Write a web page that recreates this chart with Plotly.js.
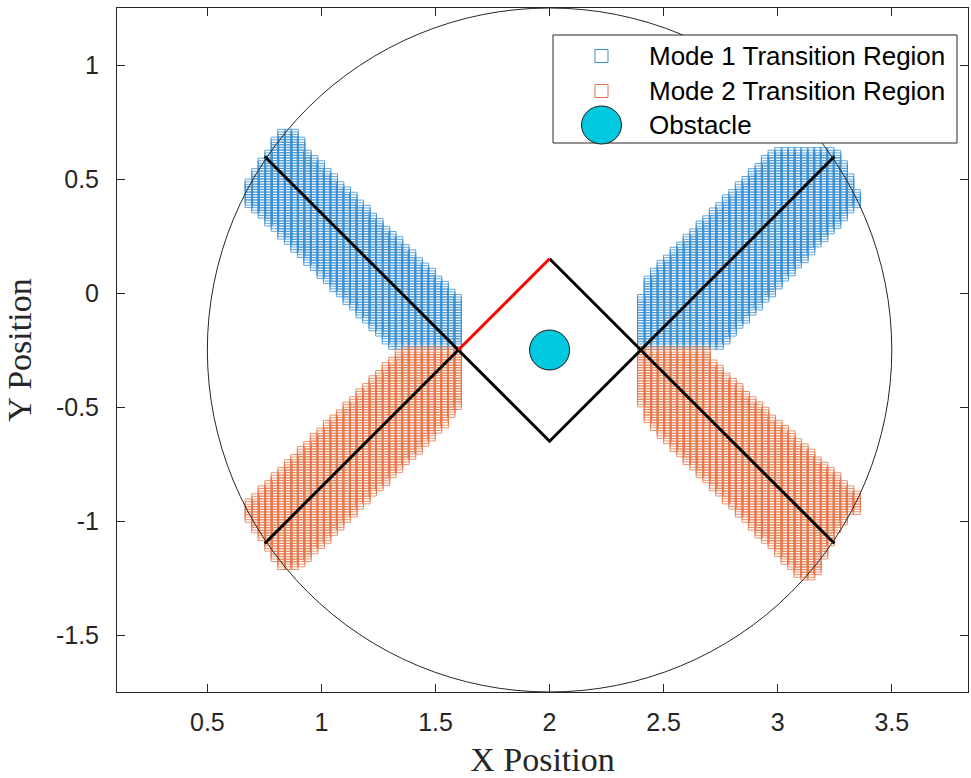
<!DOCTYPE html>
<html>
<head>
<meta charset="utf-8">
<script src="https://cdn.plot.ly/plotly-3.0.1.min.js"></script>
<style>
  html, body { margin: 0; padding: 0; background: #ffffff; }
  #chart { width: 971px; height: 778px; }
</style>
</head>
<body>
<div id="chart"></div>
<script>
// ---- sampled transition regions: one column of samples per x value ----
const ROW_STEP = 0.0115;

const leftColsX = [0.682, 0.711, 0.739, 0.768, 0.796, 0.825, 0.854, 0.882, 0.911, 0.939,
  0.968, 0.997, 1.025, 1.054, 1.082, 1.111, 1.140, 1.168, 1.197, 1.225,
  1.254, 1.283, 1.311, 1.340, 1.368, 1.397, 1.426, 1.454, 1.483, 1.511,
  1.540, 1.569, 1.597];
const rightColsX = [2.402, 2.431, 2.459, 2.488, 2.516, 2.545, 2.574, 2.602, 2.631, 2.659,
  2.688, 2.717, 2.745, 2.774, 2.802, 2.831, 2.860, 2.888, 2.917, 2.945,
  2.974, 3.003, 3.031, 3.060, 3.088, 3.117, 3.146, 3.174, 3.203, 3.231,
  3.260, 3.289, 3.317, 3.346];

// Mode 1, upper-left arm
const mode1LeftHi = [0.488, 0.531, 0.575, 0.619, 0.667, 0.711, 0.711, 0.711, 0.667, 0.619,
  0.591, 0.564, 0.536, 0.508, 0.481, 0.453, 0.426, 0.398, 0.370, 0.343,
  0.315, 0.287, 0.260, 0.232, 0.205, 0.177, 0.149, 0.122, 0.094, 0.066,
  0.039, 0.011, -0.016];
const mode1LeftLo = [0.391, 0.362, 0.334, 0.305, 0.277, 0.248, 0.220, 0.191, 0.162, 0.134,
  0.105, 0.077, 0.048, 0.019, -0.009, -0.038, -0.066, -0.095, -0.123, -0.152,
  -0.181, -0.209, -0.24, -0.24, -0.24, -0.24, -0.24, -0.24, -0.24, -0.24,
  -0.24, -0.24, -0.24];

// Mode 1, upper-right arm
const mode1RightHi = [-0.016, 0.060, 0.103, 0.131, 0.160, 0.188, 0.217, 0.246, 0.274, 0.303,
  0.332, 0.360, 0.388, 0.417, 0.446, 0.474, 0.503, 0.532, 0.560, 0.588,
  0.617, 0.632, 0.632, 0.632, 0.632, 0.632, 0.632, 0.632, 0.632, 0.632,
  0.610, 0.567, 0.514, 0.444];
const mode1RightLo = [-0.24, -0.24, -0.24, -0.24, -0.24, -0.24, -0.24, -0.24, -0.24, -0.24,
  -0.24, -0.24, -0.24, -0.208, -0.178, -0.148, -0.119, -0.089, -0.060, -0.030,
  0.000, 0.030, 0.060, 0.089, 0.119, 0.149, 0.178, 0.208, 0.238, 0.268,
  0.297, 0.327, 0.357, 0.387];

// Mode 2, lower-left arm
const mode2LeftHi = [-0.918, -0.889, -0.861, -0.832, -0.804, -0.775, -0.747, -0.718, -0.689, -0.661,
  -0.632, -0.604, -0.575, -0.546, -0.518, -0.489, -0.461, -0.432, -0.404, -0.375,
  -0.346, -0.318, -0.289, -0.261, -0.25, -0.25, -0.25, -0.25, -0.25, -0.25,
  -0.25, -0.25, -0.25];
const mode2LeftLo = [-0.992, -1.036, -1.080, -1.123, -1.167, -1.198, -1.198, -1.198, -1.189, -1.165,
  -1.137, -1.109, -1.081, -1.053, -1.025, -0.997, -0.969, -0.941, -0.913, -0.885,
  -0.857, -0.829, -0.801, -0.774, -0.746, -0.718, -0.690, -0.662, -0.633, -0.605,
  -0.577, -0.540, -0.505];

// Mode 2, lower-right arm
const mode2RightHi = [-0.25, -0.25, -0.25, -0.25, -0.25, -0.25, -0.25, -0.25, -0.25, -0.25,
  -0.25, -0.307, -0.333, -0.359, -0.386, -0.412, -0.438, -0.464, -0.490, -0.516,
  -0.542, -0.568, -0.595, -0.621, -0.647, -0.673, -0.699, -0.725, -0.751, -0.777,
  -0.803, -0.830, -0.856, -0.882];
const mode2RightLo = [-0.489, -0.563, -0.595, -0.623, -0.652, -0.681, -0.710, -0.739, -0.768, -0.797,
  -0.826, -0.855, -0.884, -0.913, -0.942, -0.971, -1.000, -1.029, -1.058, -1.086,
  -1.115, -1.144, -1.173, -1.202, -1.231, -1.242, -1.242, -1.220, -1.154, -1.097,
  -1.045, -1.001, -0.957, -0.957];

// ---- geometry ----
const diamondX = [2.0, 2.4, 2.0, 1.6];      // top, right, bottom, left vertices
const diamondY = [0.15, -0.25, -0.65, -0.25];
const armStartX = [1.6, 1.6, 2.4, 2.4];
const armStartY = [-0.25, -0.25, -0.25, -0.25];
const armEndX = [0.7515, 0.7515, 3.2485, 3.2485];
const armEndY = [0.5985, -1.0985, 0.5985, -1.0985];
const obstacleX = [2.0];
const obstacleY = [-0.25];
const boundaryCenter = [2.0, -0.25];
const boundaryRadius = 1.5;

const xTicks = [0.5, 1, 1.5, 2, 2.5, 3, 3.5];
const yTicks = [-1.5, -1, -0.5, 0, 0.5, 1];
const legendLabels = ['Mode 1 Transition Region', 'Mode 2 Transition Region', 'Obstacle'];

// expand each column into its samples on the row grid
function columnSamples(xs, lo, hi) {
  const px = [], py = [];
  xs.forEach((x, k) => {
    for (let j = Math.ceil(lo[k] / ROW_STEP - 1e-9); j * ROW_STEP <= hi[k] + 1e-9; j++) {
      px.push(x);
      py.push(+(j * ROW_STEP).toFixed(4));
    }
  });
  return { px, py };
}

const m1a = columnSamples(leftColsX, mode1LeftLo, mode1LeftHi);
const m1b = columnSamples(rightColsX, mode1RightLo, mode1RightHi);
const m2a = columnSamples(leftColsX, mode2LeftLo, mode2LeftHi);
const m2b = columnSamples(rightColsX, mode2RightLo, mode2RightHi);

const BLUE = '#3a8fd2';
const ORANGE = '#e4774a';
const INK = '#262626';
const CYAN = '#00c8de';

// diamond outline: black edges top->right->bottom->left, red edge left->top
const blackEdgeX = [diamondX[0], diamondX[1], diamondX[2], diamondX[3]];
const blackEdgeY = [diamondY[0], diamondY[1], diamondY[2], diamondY[3]];
const redEdgeX = [diamondX[3], diamondX[0]];
const redEdgeY = [diamondY[3], diamondY[0]];

const armX = [], armY = [];
armEndX.forEach((ex, i) => {
  armX.push(armStartX[i], ex, null);
  armY.push(armStartY[i], armEndY[i], null);
});

const traces = [
  {
    type: 'scatter', mode: 'markers', name: legendLabels[0],
    x: m1a.px.concat(m1b.px), y: m1a.py.concat(m1b.py),
    marker: { symbol: 'square-open', size: 7.5, color: BLUE, line: { width: 0.8 } },
    hoverinfo: 'skip'
  },
  {
    type: 'scatter', mode: 'markers', name: legendLabels[1],
    x: m2a.px.concat(m2b.px), y: m2a.py.concat(m2b.py),
    marker: { symbol: 'square-open', size: 7.5, color: ORANGE, line: { width: 0.8 } },
    hoverinfo: 'skip'
  },
  {
    type: 'scatter', mode: 'lines', x: armX, y: armY,
    line: { color: '#000000', width: 3 }, hoverinfo: 'skip'
  },
  {
    type: 'scatter', mode: 'lines', x: blackEdgeX, y: blackEdgeY,
    line: { color: '#000000', width: 3 }, hoverinfo: 'skip'
  },
  {
    type: 'scatter', mode: 'lines', x: redEdgeX, y: redEdgeY,
    line: { color: '#ff0000', width: 3 }, hoverinfo: 'skip'
  },
  {
    type: 'scatter', mode: 'markers', name: legendLabels[2],
    x: obstacleX, y: obstacleY,
    marker: { symbol: 'circle', size: 40, color: CYAN, line: { color: '#1a1a1a', width: 1 } },
    hoverinfo: 'skip'
  }
];

// plot-area frame in pixels, used to place the hand-drawn legend
const PLOT_L = 117, PLOT_R = 968, PLOT_T = 8, PLOT_B = 692;
const PW = PLOT_R - PLOT_L, PH = PLOT_B - PLOT_T;
const pxX = p => (p - PLOT_L) / PW;
const pxY = p => 1 - (p - PLOT_T) / PH;

const legBox = { l: 553, r: 957, t: 35, b: 143 };
const legRows = [56, 91, 125];
const legSymX = 601.5;
const legTextX = 647;

const shapes = [
  {
    type: 'circle', xref: 'x', yref: 'y',
    x0: boundaryCenter[0] - boundaryRadius, x1: boundaryCenter[0] + boundaryRadius,
    y0: boundaryCenter[1] - boundaryRadius, y1: boundaryCenter[1] + boundaryRadius,
    line: { color: INK, width: 1 }, layer: 'above'
  },
  {
    type: 'rect', xref: 'paper', yref: 'paper',
    x0: pxX(legBox.l), x1: pxX(legBox.r), y0: pxY(legBox.b), y1: pxY(legBox.t),
    line: { color: INK, width: 1 }, fillcolor: '#ffffff', layer: 'above'
  }
];
[BLUE, ORANGE].forEach((c, i) => {
  const h = 6.5;
  shapes.push({
    type: 'rect', xref: 'paper', yref: 'paper',
    x0: pxX(legSymX - h), x1: pxX(legSymX + h),
    y0: pxY(legRows[i] + h), y1: pxY(legRows[i] - h),
    line: { color: c, width: 1 }, fillcolor: 'rgba(0,0,0,0)', layer: 'above'
  });
});
shapes.push({
  type: 'circle', xref: 'paper', yref: 'paper',
  x0: pxX(legSymX - 20), x1: pxX(legSymX + 20),
  y0: pxY(legRows[2] + 19), y1: pxY(legRows[2] - 19),
  line: { color: '#1a1a1a', width: 1 }, fillcolor: CYAN, layer: 'above'
});

const annotations = legendLabels.map((t, i) => ({
  xref: 'paper', yref: 'paper', x: pxX(legTextX), y: pxY(legRows[i]),
  xanchor: 'left', yanchor: 'middle', showarrow: false, text: t,
  font: { family: 'Liberation Sans, Arial, sans-serif', size: 26, color: '#000000' }
}));

const axisCommon = {
  showgrid: false, zeroline: false, showline: true, mirror: 'ticks',
  linecolor: INK, linewidth: 1, ticks: 'inside', ticklen: 8, tickcolor: INK, tickwidth: 1,
  tickfont: { family: 'Liberation Sans, Arial, sans-serif', size: 25, color: INK }
};

const layout = {
  width: 971, height: 778,
  margin: { l: PLOT_L, r: 971 - PLOT_R, t: PLOT_T, b: 778 - PLOT_B, pad: 0 },
  paper_bgcolor: '#ffffff', plot_bgcolor: '#ffffff',
  showlegend: false,
  xaxis: Object.assign({}, axisCommon, {
    range: [0.104, 3.834], tickvals: xTicks, ticktext: xTicks.map(String),
    ticklabelstandoff: 8,
    title: { text: 'X Position', standoff: 14,
      font: { family: 'Liberation Serif, Times New Roman, serif', size: 34, color: INK } }
  }),
  yaxis: Object.assign({}, axisCommon, {
    range: [-1.75, 1.25], tickvals: yTicks, ticktext: yTicks.map(String),
    ticklabelstandoff: 12,
    title: { text: 'Y Position', standoff: 14,
      font: { family: 'Liberation Serif, Times New Roman, serif', size: 34, color: INK } }
  }),
  shapes: shapes,
  annotations: annotations
};

Plotly.newPlot('chart', traces, layout, { staticPlot: true, displayModeBar: false });
</script>
</body>
</html>
